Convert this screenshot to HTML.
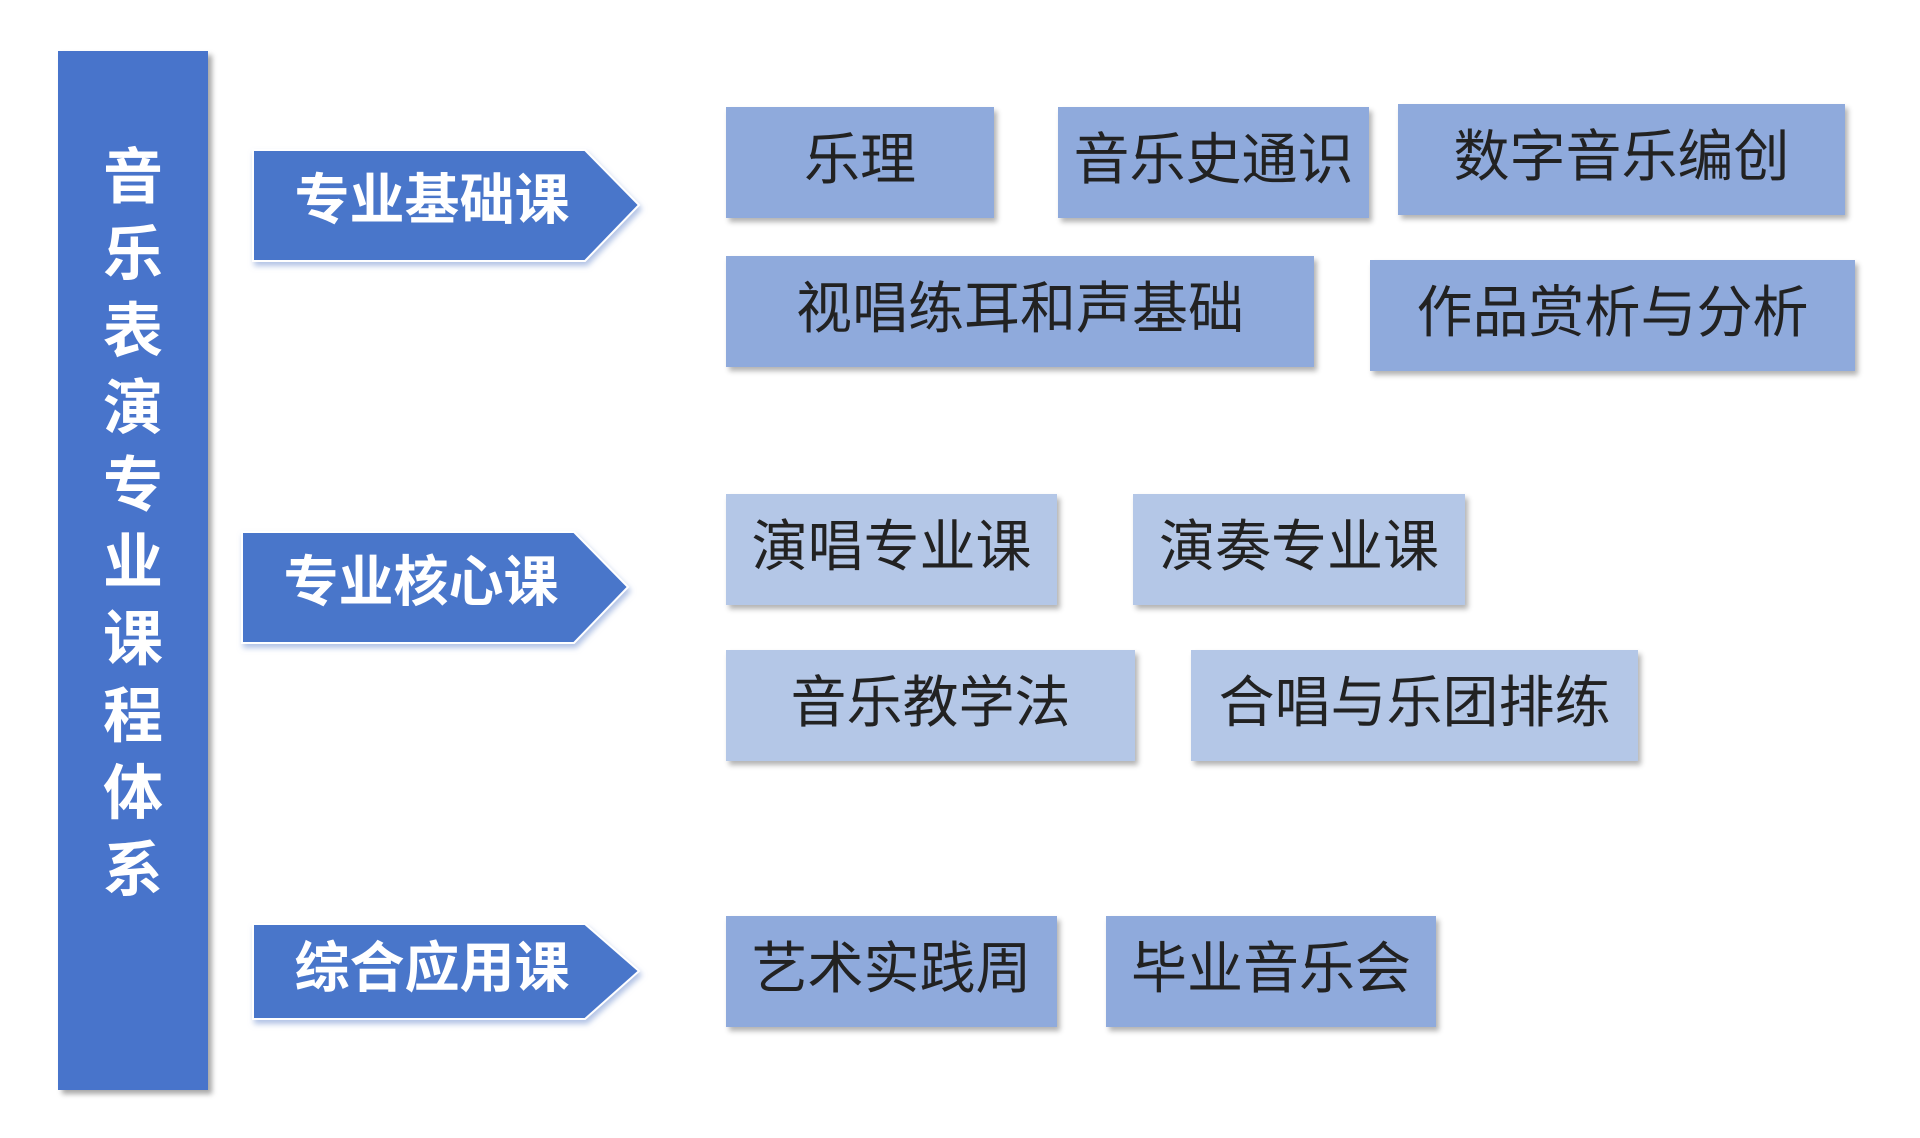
<!DOCTYPE html>
<html><head><meta charset="utf-8"><style>
body{margin:0;width:1920px;height:1138px;background:#fff;position:relative;overflow:hidden;font-family:"Liberation Sans","Noto Sans CJK SC",sans-serif}
.bar{position:absolute;left:58px;top:51px;width:150px;height:1039px;background:#4874CB;box-shadow:4px 4px 5px rgba(0,0,0,.35)}
.bar div{color:#fff;font-weight:bold;font-size:60px;line-height:77px;text-align:center;position:absolute;top:88px;width:100%}
.b{position:absolute;height:111px;box-sizing:border-box;padding-bottom:14px;display:flex;align-items:center;justify-content:center;font-size:56px;color:#222;box-shadow:3px 4px 5px rgba(0,0,0,.3)}
.d{background:#8FAADC}.l{background:#B4C7E7}
svg{position:absolute;left:0;top:0}
</style></head><body>
<div class="bar"><div>音<br>乐<br>表<br>演<br>专<br>业<br>课<br>程<br>体<br>系</div></div>
<svg width="1920" height="1138">
<defs><filter id="s" x="-10%" y="-20%" width="130%" height="150%"><feDropShadow dx="2" dy="4" stdDeviation="3" flood-color="#9fb3de" flood-opacity=".8"/></filter></defs>
<g fill="#4A76CA" stroke="#fff" stroke-width="2" filter="url(#s)">
<polygon points="253,150 585,150 639,205 585,261 253,261"/>
<polygon points="242,532 574,532 628,587 574,643 242,643"/>
<polygon points="253,924 585,924 639,971 585,1019 253,1019"/>
</g>
<g fill="#fff" font-weight="bold" font-size="55" text-anchor="middle" font-family="Liberation Sans,Noto Sans CJK SC,sans-serif">
<text x="432" y="219">专业基础课</text>
<text x="421" y="601">专业核心课</text>
<text x="432" y="987">综合应用课</text>
</g>
</svg>
<div class="b d" style="left:726px;top:107px;width:268px">乐理</div>
<div class="b d" style="left:1058px;top:107px;width:311px">音乐史通识</div>
<div class="b d" style="left:1398px;top:104px;width:447px">数字音乐编创</div>
<div class="b d" style="left:726px;top:256px;width:588px">视唱练耳和声基础</div>
<div class="b d" style="left:1370px;top:260px;width:485px">作品赏析与分析</div>
<div class="b l" style="left:726px;top:494px;width:331px">演唱专业课</div>
<div class="b l" style="left:1133px;top:494px;width:332px">演奏专业课</div>
<div class="b l" style="left:726px;top:650px;width:409px">音乐教学法</div>
<div class="b l" style="left:1191px;top:650px;width:447px">合唱与乐团排练</div>
<div class="b d" style="left:726px;top:916px;width:331px">艺术实践周</div>
<div class="b d" style="left:1106px;top:916px;width:330px">毕业音乐会</div>
</body></html>
